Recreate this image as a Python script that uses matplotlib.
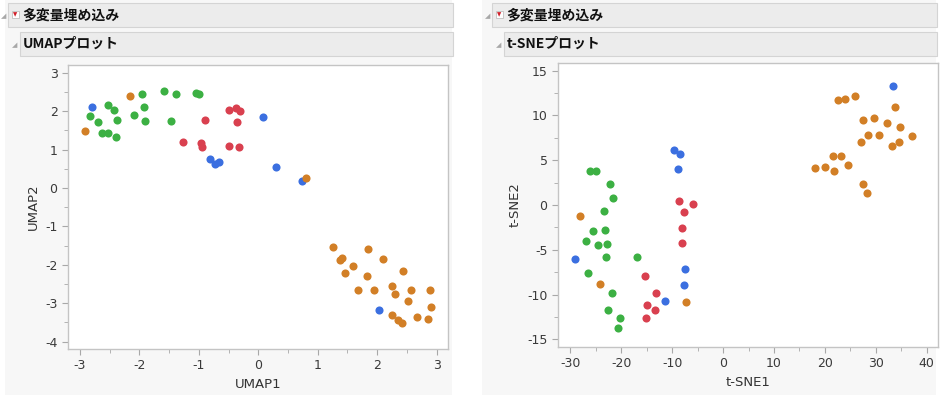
import numpy as np
import matplotlib.pyplot as plt
from matplotlib.patches import Rectangle
from matplotlib.ticker import MultipleLocator, AutoMinorLocator

plt.rcParams['font.family'] = ['DejaVu Sans', 'Noto Sans CJK JP']
plt.rcParams['axes.unicode_minus'] = False

# ---- UMAP data (per group) ----
umap_blue_x = [-2.80, 0.085, -0.81, -0.72, -0.66, 0.30, 0.74, 2.03]
umap_blue_y = [2.12, 1.85, 0.745, 0.615, 0.67, 0.545, 0.18, -3.17]
umap_green_x = [-2.83, -2.69, -2.63, -2.53, -2.53, -2.42, -2.39, -2.38, -2.09,
                -1.95, -1.93, -1.91, -1.58, -1.47, -1.38, -1.04, -0.99]
umap_green_y = [1.88, 1.72, 1.44, 2.16, 1.42, 2.02, 1.32, 1.77, 1.90,
                2.45, 2.12, 1.75, 2.52, 1.74, 2.44, 2.48, 2.44]
umap_red_x = [-1.26, -0.96, -0.94, -0.89, -0.50, -0.49, -0.37, -0.36, -0.33, -0.31]
umap_red_y = [1.19, 1.16, 1.07, 1.77, 2.03, 1.10, 2.09, 1.72, 1.06, 2.00]
umap_orange_x = [-2.92, -2.16, 0.81, 1.26, 1.38, 1.40, 1.46, 1.59, 1.67, 1.82, 1.85,
                 1.95, 2.10, 2.24, 2.25, 2.30, 2.35, 2.42, 2.43, 2.51, 2.56, 2.67,
                 2.85, 2.88, 2.90]
umap_orange_y = [1.48, 2.40, 0.25, -1.53, -1.87, -1.83, -2.20, -2.03, -2.65, -2.28, -1.58,
                 -2.65, -1.84, -2.54, -3.31, -2.76, -3.43, -3.51, -2.15, -2.95, -2.66, -3.37,
                 -3.40, -2.66, -3.09]

# ---- t-SNE data (per group) ----
tsne_blue_x = [33.33, -9.59, -8.48, -8.93, -29.02, -7.43, -7.63, -11.36]
tsne_blue_y = [13.33, 6.11, 5.73, 4.02, -6.03, -7.11, -8.97, -10.75]
tsne_green_x = [-26.21, -25.03, -22.21, -21.63, -23.46, -25.62, -23.13, -26.86, -24.57,
                -22.74, -23.00, -16.98, -26.60, -21.82, -22.67, -20.32, -20.58]
tsne_green_y = [3.76, 3.84, 2.35, 0.75, -0.63, -2.90, -2.75, -4.02, -4.46,
                -4.32, -5.80, -5.80, -7.63, -9.86, -11.68, -12.61, -13.77]
tsne_red_x = [-8.67, -5.99, -7.69, -8.02, -8.02, -15.35, -13.25, -14.95, -13.45, -15.08]
tsne_red_y = [0.45, 0.11, -0.78, -2.60, -4.28, -7.89, -9.82, -11.16, -11.76, -12.65]
tsne_orange_x = [-28.04, -24.11, -7.30, 18.15, 20.11, 21.62, 21.81, 22.53, 23.25, 24.04,
                 24.62, 25.93, 27.05, 27.51, 27.57, 28.22, 28.55, 29.66, 30.71, 32.21,
                 33.19, 33.78, 34.57, 34.83, 37.12]
tsne_orange_y = [-1.23, -8.78, -10.79, 4.13, 4.28, 5.47, 3.80, 11.76, 5.47, 11.87,
                 4.47, 12.17, 7.00, 9.53, 2.38, 1.34, 7.85, 9.75, 7.82, 9.19,
                 6.63, 10.94, 7.07, 8.71, 7.74]

BLUE, GREEN, RED, ORANGE = '#3b6fe0', '#3cb043', '#d9404f', '#d27f26'

W, H = 948, 395
fig = plt.figure(figsize=(W / 100, H / 100), dpi=100)
fig.patch.set_facecolor('white')


def px(x0, y0, x1, y1):
    """pixel box (top-left origin) -> figure fraction rect"""
    return [x0 / W, 1 - y1 / H, (x1 - x0) / W, (y1 - y0) / H]


def rect(x0, y0, x1, y1, fc, ec='none', lw=0.8, z=0):
    l, b, w, h = px(x0, y0, x1, y1)
    fig.patches.append(Rectangle((l, b), w, h, transform=fig.transFigure,
                                 facecolor=fc, edgecolor=ec, linewidth=lw, zorder=z))


def header(x, bg_left, title):
    # panel background
    rect(bg_left, 0, x + 452, H, '#f7f7f7', z=0)
    # outer header
    rect(x + 8, 3, x + 453, 27, '#ececec', '#d4d4d4', z=1)
    fig.text((x + 1) / W, 1 - 16 / H, '◢', fontsize=5, color='#a8a8a8', va='center')
    rect(x + 12, 11, x + 19, 18, 'white', '#c0c0c0', lw=0.6, z=2)
    fig.text((x + 15.5) / W, 1 - 14.8 / H, '▼', fontsize=4, color='#d0202a',
             ha='center', va='center', zorder=3)
    fig.text((x + 22) / W, 1 - 15 / H, '多変量埋め込み', fontsize=10, fontweight='bold',
             family=['Noto Sans CJK JP'], va='center', color='#111111')
    # inner header
    rect(x + 20, 32, x + 453, 56, '#ececec', '#d4d4d4', z=1)
    fig.text((x + 12) / W, 1 - 45 / H, '◢', fontsize=5, color='#a8a8a8', va='center')
    fig.text((x + 23) / W, 1 - 43.5 / H, title, fontsize=10, fontweight='bold',
             family=['Noto Sans CJK JP', 'DejaVu Sans'], va='center', color='#111111')


header(0, 5, 'UMAPプロット')
header(484, 482, 't-SNEプロット')


def style(ax, xlabel, ylabel):
    ax.set_facecolor('white')
    for s in ax.spines.values():
        s.set_color('#c4c4c4')
        s.set_linewidth(1.0)
    ax.tick_params(which='major', length=4, color='#a8a8a8', labelsize=9,
                   labelcolor='#3a3a3a', direction='out')
    ax.tick_params(which='minor', length=3, color='#a8a8a8', direction='out')
    ax.xaxis.set_minor_locator(AutoMinorLocator(2))
    ax.yaxis.set_minor_locator(AutoMinorLocator(2))
    ax.set_xlabel(xlabel, fontsize=9.5, color='#333333', labelpad=4)
    ax.set_ylabel(ylabel, fontsize=9.5, color='#333333', labelpad=4)


ms = 34
ax1 = fig.add_axes(px(68, 65, 448, 349))
ax1.set_zorder(5)
for xs, ys, c in [(umap_blue_x, umap_blue_y, BLUE), (umap_green_x, umap_green_y, GREEN),
                  (umap_red_x, umap_red_y, RED), (umap_orange_x, umap_orange_y, ORANGE)]:
    ax1.scatter(xs, ys, s=ms, color=c, linewidths=0, zorder=3)
ax1.set_xlim(-3.2, 3.19)
ax1.set_ylim(-4.19, 3.2)
ax1.xaxis.set_major_locator(MultipleLocator(1))
ax1.yaxis.set_major_locator(MultipleLocator(1))
style(ax1, 'UMAP1', 'UMAP2')

ax2 = fig.add_axes(px(558, 63, 938, 347))
ax2.set_zorder(5)
for xs, ys, c in [(tsne_blue_x, tsne_blue_y, BLUE), (tsne_green_x, tsne_green_y, GREEN),
                  (tsne_red_x, tsne_red_y, RED), (tsne_orange_x, tsne_orange_y, ORANGE)]:
    ax2.scatter(xs, ys, s=ms, color=c, linewidths=0, zorder=3)
ax2.set_xlim(-32.4, 42.2)
ax2.set_ylim(-15.86, 15.86)
ax2.xaxis.set_major_locator(MultipleLocator(10))
ax2.yaxis.set_major_locator(MultipleLocator(5))
style(ax2, 't-SNE1', 't-SNE2')

fig.savefig('out.png', dpi=100)
